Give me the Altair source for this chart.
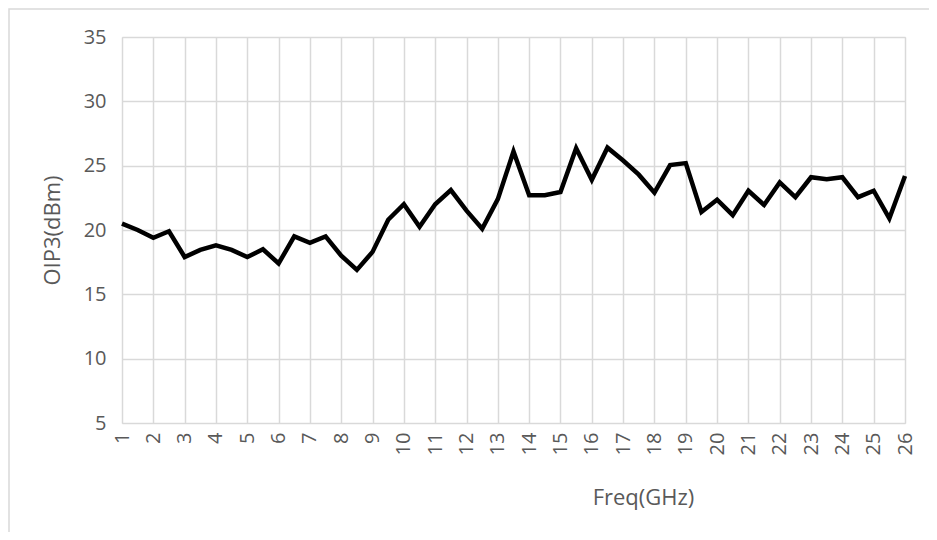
import altair as alt
import pandas as pd

freq = [1, 1.5, 2, 2.5, 3, 3.5, 4, 4.5, 5, 5.5, 6, 6.5, 7, 7.5, 8, 8.5, 9, 9.5, 10,
        10.5, 11, 11.5, 12, 12.5, 13, 13.5, 14, 14.5, 15, 15.5, 16, 16.5, 17, 17.5,
        18, 18.5, 19, 19.5, 20, 20.5, 21, 21.5, 22, 22.5, 23, 23.5, 24, 24.5, 25,
        25.5, 26]
oip3 = [20.5, 20.0, 19.4, 19.9, 17.9, 18.45, 18.8, 18.45, 17.9, 18.5, 17.4, 19.5,
        19.0, 19.5, 18.0, 16.9, 18.3, 20.8, 22.0, 20.25, 22.0, 23.1, 21.5, 20.1,
        22.4, 26.1, 22.7, 22.7, 22.95, 26.35, 23.9, 26.4, 25.4, 24.3, 22.9, 25.05,
        25.2, 21.4, 22.35, 21.15, 23.05, 21.95, 23.7, 22.55, 24.1, 23.95, 24.1,
        22.55, 23.05, 20.9, 24.2]
x_ticks = list(range(1, 27))
y_ticks = [5, 10, 15, 20, 25, 30, 35]

df = pd.DataFrame({"Freq": freq, "OIP3": oip3})

FONT = "Open Sans"
TXT = "#595959"
GRID = "#d9d9d9"

line = alt.Chart(df).mark_line(
    color="#000000", strokeWidth=4.5, strokeJoin="miter"
).encode(
    x=alt.X("Freq:Q",
            scale=alt.Scale(domain=[1, 26], nice=False, zero=False),
            axis=alt.Axis(values=x_ticks, title="Freq(GHz)", format="d",
                          grid=True, gridColor=GRID, gridWidth=1.5,
                          domain=False, ticks=False,
                          labelAngle=270, labelAlign="right", labelBaseline="middle",
                          labelPadding=9, labelFont=FONT, labelFontSize=20,
                          labelColor=TXT, labelOverlap=False,
                          titleFont=FONT, titleFontSize=22, titleFontWeight="normal",
                          titleColor=TXT, titleX=521, titleY=74,
                          titleAlign="center", titleBaseline="middle")),
    y=alt.Y("OIP3:Q",
            scale=alt.Scale(domain=[5, 35], nice=False, zero=False),
            axis=alt.Axis(values=y_ticks, title="OIP3(dBm)",
                          grid=True, gridColor=GRID, gridWidth=1.5,
                          domain=False, ticks=False,
                          labelPadding=16, labelFont=FONT, labelFontSize=20,
                          labelColor=TXT,
                          titleFont=FONT, titleFontSize=22, titleFontWeight="normal",
                          titleColor=TXT, titleAngle=270, titleX=-70, titleY=193,
                          titleAlign="center", titleBaseline="middle")),
)

# chart-area frame (decorative)
frame = alt.Chart(pd.DataFrame({"a": [0]})).mark_rect(
    fillOpacity=0, stroke=GRID, strokeWidth=1.5
).encode(
    x=alt.value(-113), x2=alt.value(1000),
    y=alt.value(-28), y2=alt.value(700),
)

chart = alt.layer(frame, line).properties(
    width=783, height=386,
    padding={"left": 114, "top": 29, "right": 24, "bottom": 109},
    autosize="none",
).configure_view(strokeWidth=0).configure(background="white")

chart.save("out.html", embed_options={"renderer": "svg", "actions": False})
